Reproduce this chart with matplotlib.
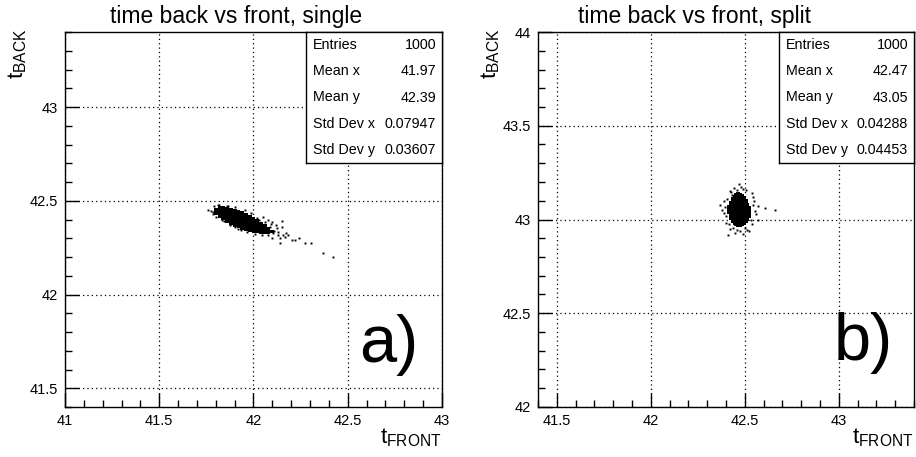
import numpy as np
import matplotlib
matplotlib.use("Agg")
import matplotlib.pyplot as plt

plt.rcParams['font.family'] = ['Liberation Sans', 'DejaVu Sans']
plt.rcParams['mathtext.fontset'] = 'custom'
plt.rcParams['mathtext.rm'] = 'Liberation Sans'

# ---------------------------------------------------------
# data
# ---------------------------------------------------------
# panel a) dense core of the cloud, one column per x bin (low / high edge)
a_col_x = [41.80, 41.82, 41.84, 41.86, 41.88, 41.90, 41.92, 41.94,
           41.96, 41.98, 42.00, 42.02, 42.04, 42.06, 42.08, 42.10]
a_col_lo = [42.422, 42.408, 42.396, 42.384, 42.372, 42.362, 42.353, 42.346,
            42.339, 42.334, 42.329, 42.326, 42.323, 42.321, 42.322, 42.328]
a_col_hi = [42.462, 42.470, 42.470, 42.468, 42.463, 42.458, 42.451, 42.443,
            42.434, 42.424, 42.413, 42.401, 42.388, 42.374, 42.360, 42.346]
# panel a) loose points around the core and the tail
a_pts_x = [41.761, 41.787, 41.813, 41.866, 41.902, 41.955, 42.052, 42.097,
           42.150, 42.153, 42.123, 42.132, 42.159, 42.167, 42.141, 42.097,
           42.079, 42.141, 42.203, 42.221, 42.239, 42.274, 42.305, 42.371,
           42.424, 41.831, 41.920, 42.008, 42.043, 42.110, 42.118, 42.185,
           41.785, 41.880, 42.075, 42.090, 41.776, 41.792, 41.845, 41.935,
           41.985, 42.020, 42.105, 42.095, 41.800, 41.858, 41.900, 41.965,
           42.030, 42.062, 42.128, 42.170, 41.815, 41.875]
a_pts_y = [42.451, 42.441, 42.478, 42.474, 42.466, 42.451, 42.415, 42.389,
           42.392, 42.362, 42.353, 42.335, 42.318, 42.309, 42.300, 42.300,
           42.318, 42.273, 42.291, 42.291, 42.300, 42.273, 42.273, 42.220,
           42.199, 42.400, 42.350, 42.322, 42.318, 42.340, 42.372, 42.315,
           42.430, 42.377, 42.398, 42.360, 42.445, 42.470, 42.392, 42.342,
           42.437, 42.410, 42.330, 42.378, 42.415, 42.473, 42.360, 42.335,
           42.398, 42.386, 42.318, 42.328, 42.480, 42.370]

# panel b) dense core of the cloud
b_col_x = [42.41, 42.42, 42.43, 42.44, 42.45, 42.46, 42.47, 42.48,
           42.49, 42.50, 42.51, 42.52, 42.53]
b_col_lo = [43.030, 43.000, 42.980, 42.970, 42.965, 42.960, 42.960, 42.960,
            42.965, 42.970, 42.980, 42.990, 43.010]
b_col_hi = [43.080, 43.100, 43.120, 43.130, 43.140, 43.145, 43.145, 43.140,
            43.135, 43.125, 43.110, 43.090, 43.070]
# panel b) loose points
b_pts_x = [42.38, 42.39, 42.40, 42.42, 42.44, 42.47, 42.49, 42.54, 42.55,
           42.56, 42.57, 42.61, 42.66, 42.54, 42.52, 42.49, 42.45, 42.42,
           42.40, 42.41, 42.46, 42.51, 42.57, 42.43, 42.37, 42.395, 42.405,
           42.435, 42.475, 42.505, 42.545, 42.555, 42.535, 42.415, 42.48,
           42.50, 42.46, 42.425, 42.545, 42.39]
b_pts_y = [43.05, 43.10, 42.98, 43.15, 43.17, 43.19, 43.165, 43.14, 43.10,
           43.03, 43.07, 43.06, 43.05, 42.975, 42.94, 42.925, 42.93, 42.95,
           43.02, 42.92, 43.16, 42.945, 43.00, 43.13, 43.08, 43.065, 43.11,
           42.955, 42.94, 43.155, 43.12, 43.045, 42.995, 42.975, 43.175,
           42.955, 42.945, 43.145, 43.08, 43.035]

# stats boxes
stat_names = ['Entries', 'Mean x', 'Mean y', 'Std Dev x', 'Std Dev y']
a_stats = ['1000', '41.97', '42.39', '0.07947', '0.03607']
b_stats = ['1000', '42.47', '43.05', '0.04288', '0.04453']

titles = ['time back vs front, single', 'time back vs front, split']
tags = ['a)', 'b)']

# ---------------------------------------------------------
# figure
# ---------------------------------------------------------
W, H = 916, 457
fig = plt.figure(figsize=(W / 100, H / 100), dpi=100)


def px_axes(x0, y0, x1, y1):
    return fig.add_axes([x0 / W, 1 - y1 / H, (x1 - x0) / W, (y1 - y0) / H])


def style(ax, xlim, ylim, xmaj, ymaj):
    ax.set_xlim(*xlim)
    ax.set_ylim(*ylim)
    ax.set_xticks(xmaj)
    ax.set_yticks(ymaj)
    ax.set_xticklabels([f'{v:g}' for v in xmaj])
    ax.set_yticklabels([f'{v:g}' for v in ymaj])
    ax.set_xticks(np.arange(xlim[0], xlim[1] + 1e-9, 0.1), minor=True)
    ax.set_yticks(np.arange(ylim[0], ylim[1] + 1e-9, 0.1), minor=True)
    ax.tick_params(which='both', direction='in', top=False, right=False,
                   labelsize=10.5, color='k')
    ax.tick_params(which='major', length=10, width=1, pad=5)
    ax.tick_params(which='minor', length=5, width=1)
    for s in ax.spines.values():
        s.set_linewidth(1)
    ax.grid(True, which='major', color='k', lw=0.9, ls=(0, (1, 2.5)))
    ax.set_axisbelow(True)


panels = [
    dict(box=(65, 32, 442, 407), xlim=(41, 43), ylim=(41.4, 43.4),
         xmaj=[41, 41.5, 42, 42.5, 43], ymaj=[41.5, 42, 42.5, 43],
         cx=a_col_x, lo=a_col_lo, hi=a_col_hi, w=0.02, px=a_pts_x, py=a_pts_y,
         stats=a_stats, sbox=(306, 32, 442, 163), title_x=236,
         tag_xy=(418, 362)),
    dict(box=(538, 32, 914, 407), xlim=(41.4, 43.4), ylim=(42, 44),
         xmaj=[41.5, 42, 42.5, 43], ymaj=[42, 42.5, 43, 43.5, 44],
         cx=b_col_x, lo=b_col_lo, hi=b_col_hi, w=0.01, px=b_pts_x, py=b_pts_y,
         stats=b_stats, sbox=(779, 32, 914, 163), title_x=694,
         tag_xy=(893, 360)),
]

for i, p in enumerate(panels):
    x0, y0, x1, y1 = p['box']
    ax = px_axes(x0, y0, x1, y1)
    style(ax, p['xlim'], p['ylim'], p['xmaj'], p['ymaj'])

    # scatter cloud: dense core + loose points
    heights = np.array(p['hi']) - np.array(p['lo'])
    ax.bar(p['cx'], heights, bottom=p['lo'], width=p['w'], color='k',
           linewidth=0, zorder=3)
    ax.plot(p['px'], p['py'], 's', color='k', ms=1.4, mew=0, zorder=3)

    # title and axis labels
    fig.text(p['title_x'] / W, 1 - 17 / H, titles[i], ha='center',
             va='center', fontsize=16.5)
    fig.text((x0 - 47) / W, 1 - 28 / H, r'$\mathregular{t_{BACK}}$',
             rotation=90, ha='center', va='top', fontsize=16)
    fig.text(x1 / W, 1 - 443 / H, r'$\mathregular{t_{FRONT}}$',
             ha='right', va='baseline', fontsize=16)

    # big panel tag
    tx, ty = p['tag_xy']
    fig.text(tx / W, 1 - ty / H, tags[i], ha='right', va='baseline',
             fontsize=48)

    # stats box
    sx0, sy0, sx1, sy1 = p['sbox']
    sax = px_axes(sx0, sy0, sx1, sy1)
    sax.set_xticks([])
    sax.set_yticks([])
    for s in sax.spines.values():
        s.set_linewidth(1)
    rows = len(stat_names)
    for r in range(rows):
        yc = 1 - (r + 0.5) / rows
        sax.text(7 / (sx1 - sx0), yc, stat_names[r], ha='left', va='center',
                 fontsize=10.3, transform=sax.transAxes)
        sax.text(1 - 6 / (sx1 - sx0), yc, p['stats'][r], ha='right',
                 va='center', fontsize=10.3, transform=sax.transAxes)

fig.savefig('out.png', dpi=100)
